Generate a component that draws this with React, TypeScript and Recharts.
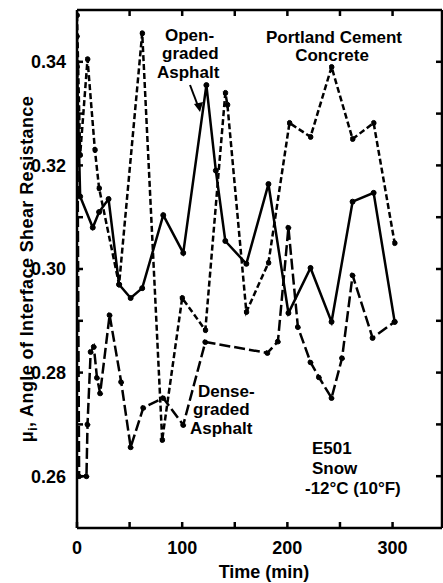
import { LineChart, Line, XAxis, YAxis } from "recharts";

// Portland Cement Concrete (short dashes)
const pccTime = [0, 3, 10, 17, 21, 40, 62, 81, 100, 122, 141, 143, 161, 182, 202, 222, 242, 262, 282, 302];
const pccValue = [0.349, 0.322, 0.3405, 0.323, 0.3156, 0.297, 0.3455, 0.267, 0.2944, 0.2882, 0.334, 0.3317, 0.2917, 0.3012, 0.3282, 0.3255, 0.339, 0.3251, 0.3282, 0.305];

// Open-graded Asphalt (solid)
const openTime = [0, 3, 15, 21, 30, 40, 51, 62, 82, 101, 123, 132, 141, 161, 182, 201, 222, 242, 262, 282, 302];
const openValue = [0.339, 0.314, 0.308, 0.311, 0.3135, 0.297, 0.2944, 0.2963, 0.3104, 0.3031, 0.3355, 0.319, 0.3054, 0.301, 0.3164, 0.2915, 0.3002, 0.2898, 0.313, 0.3147, 0.2898];

// Dense-graded Asphalt (long dashes)
const denseTime = [0, 2, 9, 10, 13, 16, 19, 22, 31, 42, 51, 63, 82, 101, 122, 181, 191, 201, 210, 222, 230, 242, 252, 262, 281, 302];
const denseValue = [0.345, 0.26, 0.26, 0.27, 0.284, 0.285, 0.279, 0.276, 0.2911, 0.2782, 0.2656, 0.2732, 0.2751, 0.2699, 0.2859, 0.2838, 0.286, 0.308, 0.2888, 0.282, 0.2791, 0.2751, 0.2828, 0.2988, 0.2867, 0.2898];

const xTicks = [50, 100, 150, 200, 250, 300];
const xBottomTicks = [0, 50, 100, 150, 200, 250, 300];
const yTicks = [0.26, 0.27, 0.28, 0.29, 0.3, 0.31, 0.32, 0.33, 0.34];

const toPoints = (ts: number[], vs: number[]) => ts.map((t, i) => ({ t, v: vs[i] }));

const font = "'Liberation Sans', Arial, sans-serif";
const tickStyle = { fill: "#000", fontSize: 18, fontWeight: 700, fontFamily: font };
const dot = { r: 2.5, fill: "#000", stroke: "#000", strokeWidth: 1 };

export default function App() {
  return (
    <div style={{ position: "absolute", left: 0, top: 0, width: 443, height: 583, background: "#fff", overflow: "hidden" }}>
      <LineChart width={443} height={583} margin={{ top: 9, right: 0, bottom: 0, left: 0 }}>
        <XAxis
          xAxisId="b"
          type="number"
          dataKey="t"
          domain={[0, 347]}
          ticks={xBottomTicks}
          tickFormatter={(v: number) => (v % 100 === 0 ? String(v) : "")}
          allowDataOverflow
          height={55}
          stroke="#000"
          strokeWidth={2.5}
          tickSize={-6}
          tickMargin={19}
          tick={tickStyle}
        />
        <XAxis
          xAxisId="t"
          orientation="top"
          type="number"
          dataKey="t"
          domain={[0, 347]}
          ticks={xTicks}
          tickFormatter={() => ""}
          allowDataOverflow
          height={1}
          stroke="#000"
          strokeWidth={2.5}
          tickSize={-6}
        />
        <YAxis
          yAxisId="l"
          type="number"
          domain={[0.25, 0.35]}
          ticks={yTicks}
          tickFormatter={(v: number) => (Math.round(v * 100) % 2 === 0 ? v.toFixed(2) : "")}
          allowDataOverflow
          width={77}
          stroke="#000"
          strokeWidth={2.5}
          tickSize={-6}
          tickMargin={17}
          tick={tickStyle}
        />
        <YAxis
          yAxisId="r"
          orientation="right"
          type="number"
          domain={[0.25, 0.35]}
          ticks={yTicks}
          tickFormatter={() => ""}
          allowDataOverflow
          width={1}
          stroke="#000"
          strokeWidth={2.5}
          tickSize={-6}
        />
        <Line
          xAxisId="b"
          yAxisId="l"
          data={toPoints(openTime, openValue)}
          dataKey="v"
          stroke="#000"
          strokeWidth={2.5}
          dot={dot}
          isAnimationActive={false}
        />
        <Line
          xAxisId="t"
          yAxisId="r"
          data={toPoints(pccTime, pccValue)}
          dataKey="v"
          stroke="#000"
          strokeWidth={2.5}
          strokeDasharray="6 3"
          dot={dot}
          isAnimationActive={false}
        />
        <Line
          xAxisId="b"
          yAxisId="l"
          data={toPoints(denseTime, denseValue)}
          dataKey="v"
          stroke="#000"
          strokeWidth={2.5}
          strokeDasharray="11 4"
          dot={dot}
          isAnimationActive={false}
        />
      </LineChart>
      <svg
        width={443}
        height={583}
        style={{ position: "absolute", left: 0, top: 0, pointerEvents: "none" }}
        fontFamily={font}
        fontWeight={700}
        fill="#000"
      >
        <text transform="translate(33,269) rotate(-90)" textAnchor="middle" fontSize={18} letterSpacing={0.4}>
          <tspan>μ</tspan>
          <tspan fontSize={12} dy={4}>i</tspan>
          <tspan dy={-4}>, Angle of Interface Shear Resistance</tspan>
        </text>
        <text x={264} y={578} textAnchor="middle" fontSize={18}>Time (min)</text>

        <text x={165} y={41} fontSize={17}>Open-</text>
        <text x={162} y={59} fontSize={17}>graded</text>
        <text x={157} y={78} fontSize={17}>Asphalt</text>
        <line x1={190} y1={85} x2={198} y2={106} stroke="#000" strokeWidth={2} />
        <polygon points="194,104 203,102 200,112" fill="#000" />

        <text x={334} y={43} textAnchor="middle" fontSize={17}>Portland Cement</text>
        <text x={332} y={61} textAnchor="middle" fontSize={17}>Concrete</text>

        <text x={198} y={397} fontSize={17}>Dense-</text>
        <text x={193} y={415} fontSize={17}>graded</text>
        <text x={190} y={434} fontSize={17}>Asphalt</text>

        <text x={312} y={454} fontSize={17}>E501</text>
        <text x={312} y={474} fontSize={17}>Snow</text>
        <text x={305} y={494} fontSize={17}>-12°C (10°F)</text>
      </svg>
    </div>
  );
}
